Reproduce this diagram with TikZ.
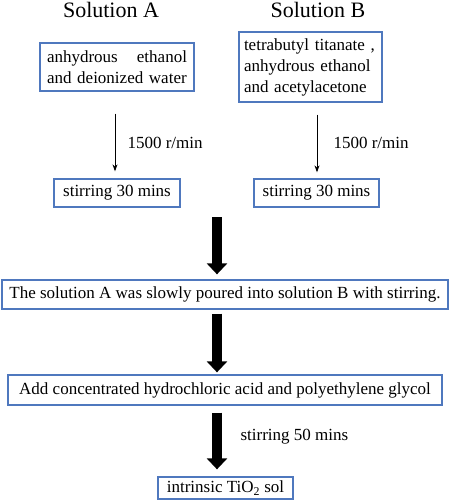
\documentclass[tikz,border=0pt]{standalone}
\usepackage{fontspec}
\setmainfont{Liberation Serif}
\usetikzlibrary{arrows.meta}
\definecolor{boxblue}{RGB}{79,120,190}
\begin{document}
\begin{tikzpicture}[x=1pt,y=-1pt,
 box/.style={draw=boxblue, line width=1.3pt, inner sep=0pt, font=\fontsize{17}{21}\selectfont},
 title/.style={font=\fontsize{22}{26}\selectfont, anchor=base},
 lab/.style={font=\fontsize{17}{21}\selectfont, anchor=west},
 thinarrow/.style={line width=0.9pt, -{Stealth[length=7pt,width=5pt]}},
 bigarrow/.style={line width=10pt, -{Triangle[length=11pt,width=20pt]}}]
\useasboundingbox (0,0) rectangle (450,501);
\node[title] (TA) at (111,17) {Solution A};
\node[title] (TB) at (318,17) {Solution B};
\node[box, minimum width=154pt, minimum height=48pt, text width=140pt, align=left] (A1) at (117,67)
  {\makebox[140pt][l]{anhydrous\hfill ethanol}\\and deionized water};
\node[box, minimum width=143pt, minimum height=70pt, text width=133pt, align=left] (B1) at (310.5,67)
  {tetrabutyl titanate ,\\anhydrous ethanol\\and acetylacetone};
\node[box, minimum width=126pt, minimum height=28pt] (A2) at (117,193) {stirring 30 mins};
\node[box, minimum width=125pt, minimum height=28pt] (B2) at (316.5,193) {stirring 30 mins};
\node[box, minimum width=446pt, minimum height=29pt] (B3) at (225,294.5) {The solution A was slowly poured into solution B with stirring.};
\node[box, minimum width=434pt, minimum height=30pt] (B4) at (225,390) {Add concentrated hydrochloric acid and polyethylene glycol};
\node[box, minimum width=135pt, minimum height=22pt] (B5) at (225.5,488) {intrinsic TiO\textsubscript{2} sol};
\node[lab] (L1) at (124,143) {1500 r/min};
\node[lab] (L2) at (330,143) {1500 r/min};
\node[lab] (L3) at (237,437) {stirring 50 mins};
\coordinate (c1) at (217,217);
\draw[thinarrow, shorten <=22pt, shorten >=7pt] ([xshift=-2pt]A1.south) -- ([xshift=-2pt]A2.north);
\draw[thinarrow, shorten <=12pt, shorten >=6pt] ([xshift=6.5pt]B1.south) -- ([xshift=0.5pt]B2.north);
\draw[bigarrow, shorten >=5pt] (c1) -- ([xshift=-8pt]B3.north);
\draw[bigarrow, shorten <=4pt, shorten >=2pt] ([xshift=-8pt]B3.south) -- ([xshift=-8pt]B4.north);
\draw[bigarrow, shorten <=7pt, shorten >=7pt] ([xshift=-8pt]B4.south) -- ([xshift=-8.5pt]B5.north);
\end{tikzpicture}
\end{document}
